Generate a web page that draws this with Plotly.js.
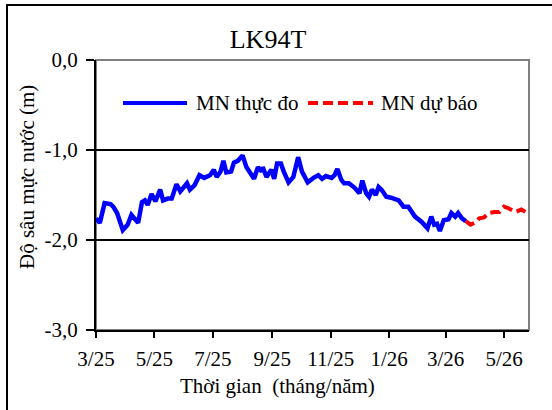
<!DOCTYPE html>
<html>
<head>
<meta charset="utf-8">
<script src="https://cdn.plot.ly/plotly-3.0.1.min.js"></script>
<style>html,body{margin:0;padding:0;background:#fff;}#chart{width:552px;height:410px;}</style>
</head>
<body>
<div id="chart"></div>
<script>
// Observed water level (MN thực đo)
const obsDates = ['2025-03-01','2025-03-05','2025-03-10','2025-03-16','2025-03-19','2025-03-23','2025-03-29',
  '2025-04-03','2025-04-07','2025-04-11','2025-04-14','2025-04-18','2025-04-21','2025-04-24','2025-04-28',
  '2025-05-02','2025-05-07','2025-05-10','2025-05-15','2025-05-19','2025-05-24','2025-05-28',
  '2025-06-04','2025-06-07','2025-06-12','2025-06-17','2025-06-22','2025-06-28',
  '2025-07-02','2025-07-05','2025-07-09','2025-07-12','2025-07-15','2025-07-20','2025-07-23','2025-07-27',
  '2025-08-01','2025-08-05','2025-08-08','2025-08-13','2025-08-17','2025-08-21','2025-08-22','2025-08-26','2025-08-31',
  '2025-09-03','2025-09-06','2025-09-10','2025-09-13','2025-09-18','2025-09-23','2025-09-28',
  '2025-10-02','2025-10-08','2025-10-14','2025-10-19','2025-10-23','2025-10-27',
  '2025-11-02','2025-11-05','2025-11-08','2025-11-12','2025-11-15','2025-11-20','2025-11-26',
  '2025-12-01','2025-12-04','2025-12-08','2025-12-11','2025-12-14','2025-12-18','2025-12-21','2025-12-24','2025-12-29',
  '2026-01-03','2026-01-11','2026-01-16','2026-01-21','2026-01-28',
  '2026-02-04','2026-02-10','2026-02-14','2026-02-17','2026-02-20','2026-02-23','2026-02-27',
  '2026-03-04','2026-03-07','2026-03-11','2026-03-14','2026-03-18','2026-03-22'];
const obsValues = [-1.76,-1.81,-1.59,-1.60,-1.63,-1.70,-1.89,
  -1.83,-1.72,-1.78,-1.81,-1.58,-1.56,-1.61,-1.49,
  -1.57,-1.44,-1.56,-1.54,-1.54,-1.38,-1.46,
  -1.37,-1.44,-1.39,-1.28,-1.31,-1.28,
  -1.22,-1.30,-1.24,-1.12,-1.25,-1.24,-1.14,-1.12,
  -1.06,-1.19,-1.24,-1.32,-1.19,-1.24,-1.19,-1.30,-1.22,
  -1.32,-1.15,-1.15,-1.24,-1.36,-1.30,-1.08,
  -1.24,-1.36,-1.31,-1.28,-1.32,-1.29,
  -1.31,-1.28,-1.21,-1.33,-1.37,-1.37,-1.42,
  -1.48,-1.34,-1.48,-1.52,-1.44,-1.50,-1.41,-1.44,-1.52,
  -1.53,-1.56,-1.63,-1.63,-1.74,
  -1.80,-1.87,-1.74,-1.83,-1.82,-1.90,-1.78,
  -1.77,-1.70,-1.74,-1.70,-1.76,-1.79];

// Forecast water level (MN dự báo)
const fcDates = ['2026-03-22','2026-03-27','2026-04-02','2026-04-05','2026-04-10','2026-04-15','2026-04-21',
  '2026-04-26','2026-05-01','2026-05-06','2026-05-13','2026-05-19','2026-05-25'];
const fcValues = [-1.79,-1.83,-1.80,-1.76,-1.75,-1.70,-1.69,-1.69,-1.63,-1.65,-1.69,-1.66,-1.70];

// Axis ticks
const xTickDates = ['2025-03-01','2025-05-01','2025-07-01','2025-09-01','2025-11-01','2026-01-01','2026-03-01','2026-05-01'];
const xTickLabels = ['3/25','5/25','7/25','9/25','11/25','1/26','3/26','5/26'];
const yTickValues = [-3, -2, -1, 0];
const yTickLabels = ['-3,0','-2,0','-1,0','0,0'];
const yGridValues = [-2, -1];

const chartTitle = 'LK94T';
const xTitle = 'Thời gian\u00a0\u00a0(tháng/năm)';
const yTitle = 'Độ sâu mực nước (m)';
const seriesNames = ['MN thực đo', 'MN dự báo'];

const FONT = 'Liberation Serif';
// pixel helpers for decoration placement (plot area: x 96..529, y 60..330)
const PL = 96, PR = 529, PT = 60, PB = 330;
const px = x => (x - PL) / (PR - PL);
const py = y => (PB - y) / (PB - PT);

const traces = [
  // empty helper traces so the overlay axes (inner ticks, grid) get drawn
  {x: [], y: [], type: 'scatter', mode: 'lines', xaxis: 'x', yaxis: 'y3', showlegend: false, hoverinfo: 'skip'},
  {x: [], y: [], type: 'scatter', mode: 'lines', xaxis: 'x', yaxis: 'y2', showlegend: false, hoverinfo: 'skip'},
  {x: obsDates, y: obsValues, type: 'scatter', mode: 'lines', name: seriesNames[0],
   line: {color: '#0000FF', width: 4.5}, xaxis: 'x', yaxis: 'y', showlegend: false},
  {x: fcDates, y: fcValues, type: 'scatter', mode: 'lines', name: seriesNames[1],
   line: {color: '#FF0000', width: 4, dash: '10px,5px'}, xaxis: 'x', yaxis: 'y', showlegend: false}
];

const xRange = ['2025-03-01', '2026-05-27'];
const layout = {
  width: 552, height: 410,
  margin: {l: PL, r: 552 - PR, t: PT, b: 410 - PB, pad: 0},
  paper_bgcolor: '#fff', plot_bgcolor: '#fff',
  font: {family: FONT, size: 21, color: '#000'},
  showlegend: false,
  title: {text: chartTitle, font: {family: FONT, size: 26, color: '#000'},
          xref: 'paper', x: px(268), xanchor: 'center', yref: 'container', y: 1 - 39/410, yanchor: 'middle'},
  xaxis: {type: 'date', range: xRange, tickvals: xTickDates, ticktext: xTickLabels,
          ticks: 'outside', ticklen: 6, tickwidth: 2, tickcolor: '#000', ticklabelstandoff: 3,
          showline: true, linecolor: '#000', linewidth: 2, showgrid: false, zeroline: false,
          tickfont: {family: FONT, size: 21, color: '#000'}, fixedrange: true},
  yaxis: {range: [-3, 0], tickvals: yTickValues, ticktext: yTickLabels,
          ticks: 'outside', ticklen: 8, tickwidth: 2, tickcolor: '#000', ticklabelstandoff: 4,
          showline: true, linecolor: '#000', linewidth: 2, showgrid: false, zeroline: false,
          tickfont: {family: FONT, size: 21, color: '#000'}, fixedrange: true},
  yaxis2: {range: [-3, 0], overlaying: 'y', anchor: 'x', side: 'left', tickvals: yTickValues, ticks: 'inside', ticklen: 4, tickwidth: 2,
           tickcolor: '#000', showticklabels: false, showgrid: false, zeroline: false, showline: false, fixedrange: true},
  yaxis3: {range: [-3, 0], overlaying: 'y', anchor: 'x', side: 'left', tickvals: yGridValues, ticks: '', showticklabels: false,
           showgrid: true, gridcolor: '#000', gridwidth: 2, zeroline: false, showline: false, fixedrange: true},
  shapes: [
    // plot area border (gray top/right)
    {type: 'rect', xref: 'paper', yref: 'paper', x0: 0, x1: 1, y0: 0, y1: 1,
     line: {color: '#808080', width: 2}, layer: 'below'},
    // outer frame (left and top)
    {type: 'line', xref: 'paper', yref: 'paper', x0: px(7), x1: px(7), y0: py(4), y1: py(412),
     line: {color: '#000', width: 2}},
    {type: 'line', xref: 'paper', yref: 'paper', x0: px(6), x1: px(555), y0: py(5), y1: py(5),
     line: {color: '#000', width: 2}},
    // legend sample lines
    {type: 'line', xref: 'paper', yref: 'paper', x0: px(123), x1: px(187), y0: py(103), y1: py(103),
     line: {color: '#0000FF', width: 4}},
    {type: 'line', xref: 'paper', yref: 'paper', x0: px(308), x1: px(373), y0: py(103), y1: py(103),
     line: {color: '#FF0000', width: 4, dash: '10px,5px'}}
  ],
  annotations: [
    {text: seriesNames[0], xref: 'paper', yref: 'paper', x: px(194), y: py(103), xanchor: 'left', yanchor: 'middle',
     showarrow: false, font: {family: FONT, size: 21, color: '#000'}},
    {text: seriesNames[1], xref: 'paper', yref: 'paper', x: px(379), y: py(103), xanchor: 'left', yanchor: 'middle',
     showarrow: false, font: {family: FONT, size: 21, color: '#000'}},
    {text: xTitle, xref: 'paper', yref: 'paper', x: px(277), y: py(386), xanchor: 'center', yanchor: 'middle',
     showarrow: false, font: {family: FONT, size: 21, color: '#000'}},
    {text: yTitle, xref: 'paper', yref: 'paper', x: px(27), y: py(177), xanchor: 'center', yanchor: 'middle',
     textangle: -90, showarrow: false, font: {family: FONT, size: 21, color: '#000'}}
  ]
};

Plotly.newPlot('chart', traces, layout, {staticPlot: true, displayModeBar: false});
</script>
</body>
</html>
